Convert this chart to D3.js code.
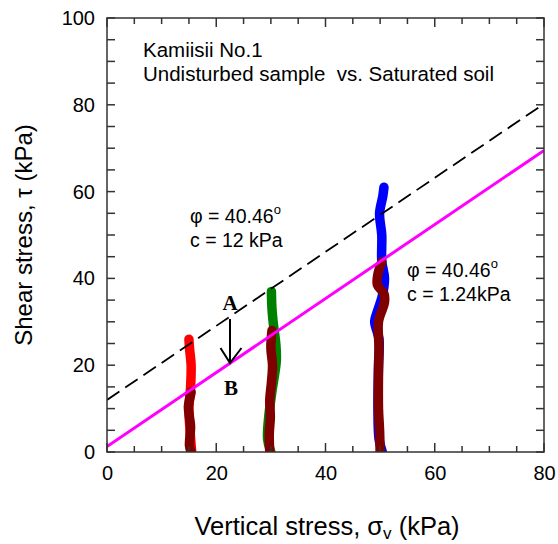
<!DOCTYPE html>
<html><head><meta charset="utf-8">
<script src="https://cdn.jsdelivr.net/npm/d3@7"></script>
<style>
body{margin:0;background:#fff;}
svg{display:block;font-family:"Liberation Sans",Arial,sans-serif;}
</style></head>
<body><svg id="c" width="558" height="544"></svg>
<script>
// ---- data ----
const xTicks = [0, 20, 40, 60, 80];
const yTicks = [0, 20, 40, 60, 80, 100];
// undisturbed sample traces (sigma, tau)
const redSigma = [15.5, 15.2, 15.0, 15.3, 15.4, 15.1, 15.0];
const redTau   = [0, 5, 10, 15, 20, 24, 26];
const greenSigma = [30.0, 29.4, 29.6, 30.2, 31.0, 30.9, 30.5, 30.2, 30.1];
const greenTau   = [0, 3, 8, 14, 21, 25, 29, 33, 37];
const blueSigma = [50.4, 49.8, 49.6, 49.7, 49.8, 49.0, 49.4, 50.4, 50.8, 50.3, 50.3, 49.9, 50.5, 50.7];
const blueTau   = [0, 3, 10, 20, 26, 30, 32, 36, 40, 44, 50, 55, 59, 61];
// saturated soil traces
const sat1Sigma = [15.4, 15.1, 15.3, 15.1, 14.9, 15.1, 15.4];
const sat1Tau   = [0, 1.5, 5.8, 8, 10.4, 12, 13.8];
const sat2Sigma = [29.8, 29.7, 29.9, 29.8, 30.1, 30.3, 30.0, 30.2];
const sat2Tau   = [0, 4, 8, 12, 16, 20, 24, 28];
const sat3Sigma = [50.0, 49.9, 49.7, 49.7, 49.8, 49.7, 50.8, 50.7, 49.5, 49.6, 50.3];
const sat3Tau   = [0, 5, 10, 18, 24, 30, 34.5, 36.5, 38.5, 41, 43.8];
// failure envelopes
const phiDeg = 40.46;
const cUndisturbed = 12;
const cSaturated = 1.24;

// ---- chart ----
const svg = d3.select("#c");
const x = d3.scaleLinear().domain([0, 80]).range([107, 544]);
const y = d3.scaleLinear().domain([0, 100]).range([452, 18]);
const axisColor = "#333";

svg.append("defs").append("clipPath").attr("id", "clip")
  .append("rect").attr("x", 107).attr("y", 18).attr("width", 437).attr("height", 434);

const plot = svg.append("g").attr("clip-path", "url(#clip)");
const line = d3.line().x(d => x(d[0])).y(d => y(d[1])).curve(d3.curveCatmullRom);
function trace(sig, tau, color) {
  plot.append("path").datum(sig.map((s, i) => [s, tau[i]]))
    .attr("d", line).attr("fill", "none").attr("stroke", color)
    .attr("stroke-width", 9.5).attr("stroke-linecap", "round").attr("stroke-linejoin", "round");
}
trace(redSigma, redTau, "#ff0000");
trace(greenSigma, greenTau, "#008000");
trace(blueSigma, blueTau, "#0000ff");
trace(sat1Sigma, sat1Tau, "#800000");
trace(sat2Sigma, sat2Tau, "#800000");
trace(sat3Sigma, sat3Tau, "#800000");

const tanPhi = Math.tan(phiDeg * Math.PI / 180);
function envelope(c, color, dash) {
  const p = plot.append("path").datum([[0, c], [80, c + 80 * tanPhi]])
    .attr("d", d3.line().x(d => x(d[0])).y(d => y(d[1])))
    .attr("fill", "none").attr("stroke", color);
  if (dash) p.attr("stroke-width", 1.8).attr("stroke-dasharray", "15,7");
  else p.attr("stroke-width", 3);
}
envelope(cUndisturbed, "#000", true);
envelope(cSaturated, "#ff00ff", false);

// axes
const minorX = d3.range(0, 81, 5);
const minorY = d3.range(0, 101, 5);
const ax = svg.append("g").attr("stroke", axisColor).attr("stroke-width", 1.5);
minorX.forEach(v => {
  const L = v % 20 === 0 ? 9 : 6;
  ax.append("line").attr("x1", x(v)).attr("x2", x(v)).attr("y1", 452).attr("y2", 452 - L);
  ax.append("line").attr("x1", x(v)).attr("x2", x(v)).attr("y1", 18).attr("y2", 18 + L);
});
minorY.forEach(v => {
  const L = 8;
  ax.append("line").attr("y1", y(v)).attr("y2", y(v)).attr("x1", 107).attr("x2", 107 + L);
  ax.append("line").attr("y1", y(v)).attr("y2", y(v)).attr("x1", 544).attr("x2", 544 - L);
});
ax.append("rect").attr("x", 107).attr("y", 18).attr("width", 437).attr("height", 434).attr("fill", "none");

const xAxis = d3.axisBottom(x).tickValues(xTicks).tickSize(0).tickPadding(14);
svg.append("g").attr("transform", "translate(0,452)").call(xAxis)
  .call(g => g.select(".domain").remove())
  .selectAll("text").attr("font-size", 20).attr("font-family", "Liberation Sans, Arial").attr("fill", "#000");
const yAxis = d3.axisLeft(y).tickValues(yTicks).tickSize(0).tickPadding(12);
svg.append("g").attr("transform", "translate(107,0)").call(yAxis)
  .call(g => g.select(".domain").remove())
  .selectAll("text").attr("font-size", 20).attr("font-family", "Liberation Sans, Arial").attr("fill", "#000");

// titles
const xt = svg.append("text").attr("x", 327).attr("y", 535).attr("text-anchor", "middle")
  .attr("font-size", 25.5);
xt.append("tspan").text("Vertical stress, ");
xt.append("tspan").text("σ");
xt.append("tspan").attr("font-size", 17).attr("dy", 4).text("v");
xt.append("tspan").attr("dy", -4).text(" (kPa)");

svg.append("text").attr("transform", "translate(32,235) rotate(-90)").attr("text-anchor", "middle")
  .attr("font-size", 24).text("Shear stress, τ (kPa)");

// annotations
const fs = 19.5;
svg.append("text").attr("x", 143).attr("y", 57).attr("font-size", 20.5).text("Kamiisii No.1");
svg.append("text").attr("x", 143).attr("y", 81).attr("font-size", 20.5).attr("xml:space", "preserve")
  .text("Undisturbed sample  vs. Saturated soil");

function phiLabel(px, py, cText) {
  const t = svg.append("text").attr("x", px).attr("y", py).attr("font-size", fs);
  t.append("tspan").text("φ = " + phiDeg.toFixed(2));
  t.append("tspan").attr("font-size", 13).attr("dy", -9).text("o");
  svg.append("text").attr("x", px).attr("y", py + 24).attr("font-size", fs).text(cText);
}
phiLabel(190, 223, "c = 12 kPa");
phiLabel(407, 277, "c = 1.24kPa");

svg.append("text").attr("x", 230).attr("y", 310).attr("text-anchor", "middle")
  .attr("font-family", "Liberation Serif, Times New Roman, serif").attr("font-weight", "bold")
  .attr("font-size", 21).text("A");
svg.append("text").attr("x", 231).attr("y", 395).attr("text-anchor", "middle")
  .attr("font-family", "Liberation Serif, Times New Roman, serif").attr("font-weight", "bold")
  .attr("font-size", 21).text("B");
svg.append("line").attr("x1", 230).attr("x2", 230).attr("y1", 319).attr("y2", 363)
  .attr("stroke", "#000").attr("stroke-width", 2);
svg.append("path").attr("d", "M220.5,348 L230,363 L241.5,348").attr("fill", "none")
  .attr("stroke", "#000").attr("stroke-width", 2);
</script></body></html>
